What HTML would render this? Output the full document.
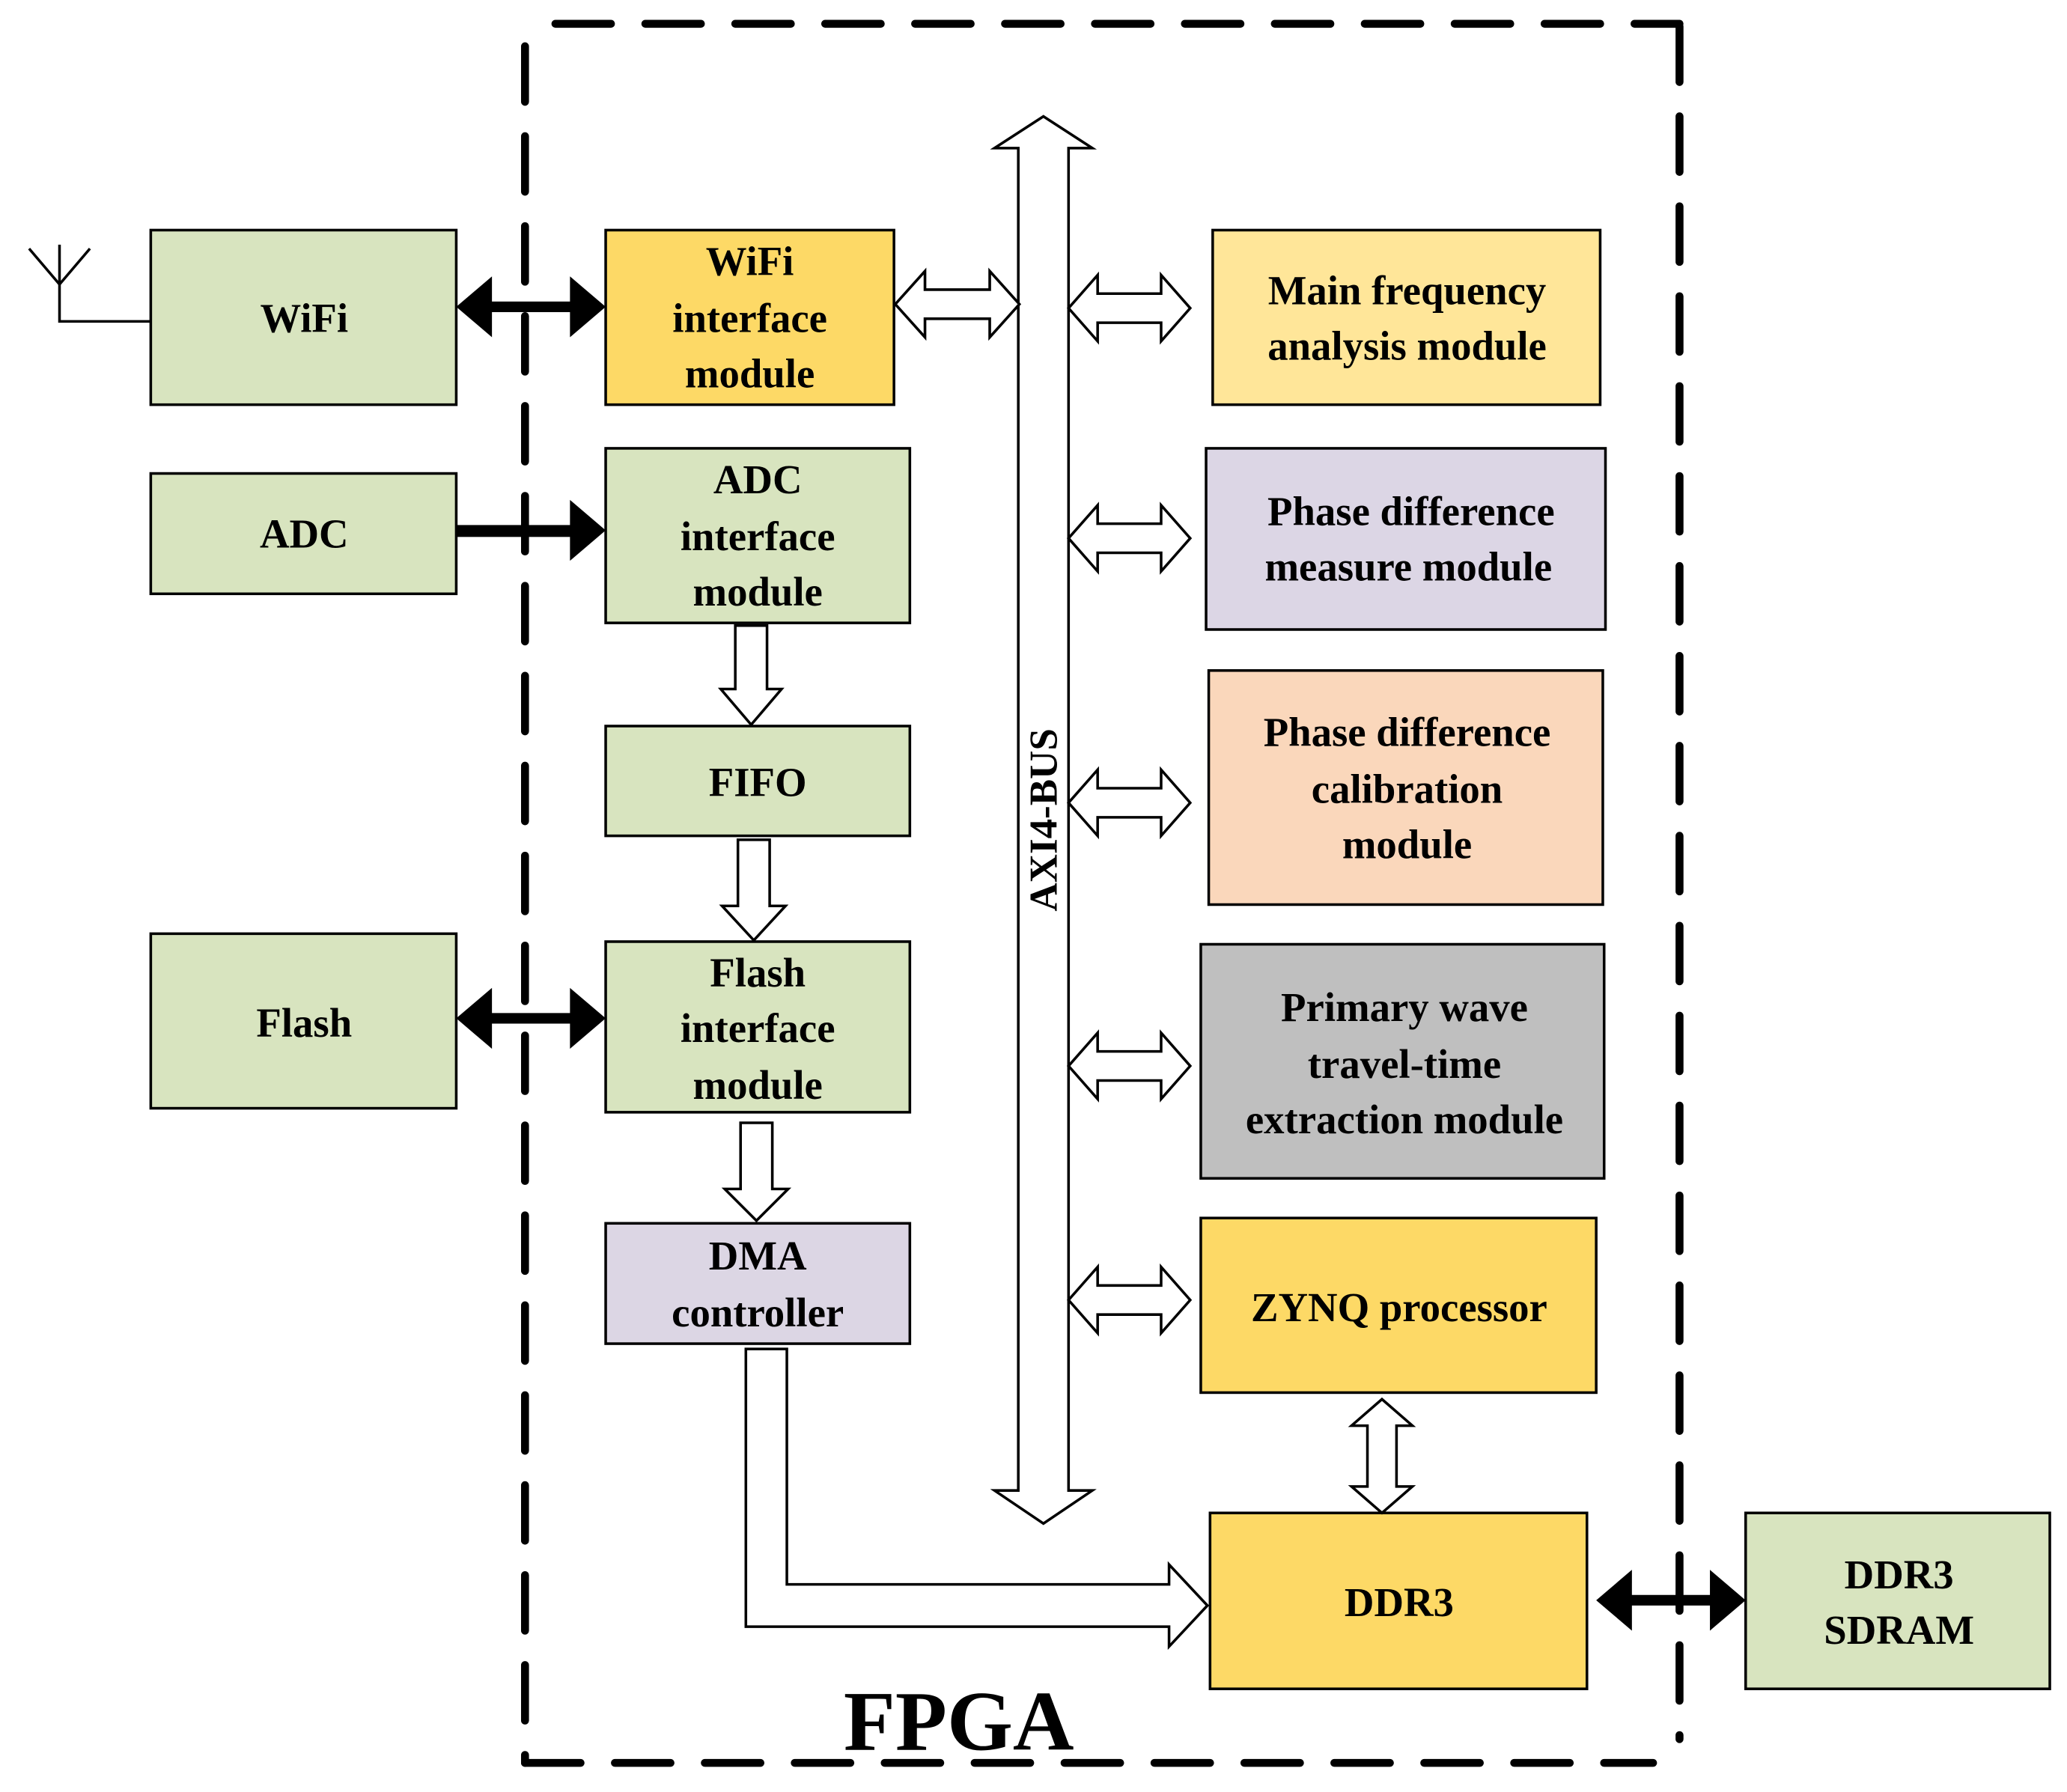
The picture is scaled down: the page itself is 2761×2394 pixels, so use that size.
<!DOCTYPE html>
<html><head><meta charset="utf-8"><style>
html,body{margin:0;padding:0;background:#fff;}
svg{display:block;}
text{font-family:"Liberation Serif",serif;font-weight:bold;font-size:31px;text-anchor:middle;fill:#000;}
</style></head><body>
<svg width="2761" height="2394" viewBox="0 0 1563 1355" preserveAspectRatio="none" xmlns="http://www.w3.org/2000/svg">
<!-- FPGA dashed border -->
<g stroke="#000" stroke-width="6" fill="none" stroke-dasharray="42 26" stroke-linecap="round">
<line x1="420" y1="18" x2="1270" y2="18"/>
<line x1="1270" y1="20" x2="1270" y2="1315"/>
<line x1="397" y1="35" x2="397" y2="1333"/>
<line x1="397" y1="1333" x2="1250" y2="1333"/>
</g>
<!-- antenna -->
<g stroke="#000" stroke-width="2" fill="none">
<polyline points="22,188 45,215 68,188"/>
<polyline points="45,185 45,243 115,243"/>
</g>
<!-- boxes -->
<g stroke="#000" stroke-width="2">
<rect x="114" y="174" width="231" height="132" fill="#d8e4bf"/>
<rect x="458" y="174" width="218" height="132" fill="#fdd966"/>
<rect x="114" y="358" width="231" height="91" fill="#d8e4bf"/>
<rect x="458" y="339" width="230" height="132" fill="#d8e4bf"/>
<rect x="458" y="549" width="230" height="83" fill="#d8e4bf"/>
<rect x="114" y="706" width="231" height="132" fill="#d8e4bf"/>
<rect x="458" y="712" width="230" height="129" fill="#d8e4bf"/>
<rect x="458" y="925" width="230" height="91" fill="#dcd6e4"/>
<rect x="917" y="174" width="293" height="132" fill="#ffe699"/>
<rect x="912" y="339" width="302" height="137" fill="#dcd6e5"/>
<rect x="914" y="507" width="298" height="177" fill="#fad7bb"/>
<rect x="908" y="714" width="305" height="177" fill="#bfbfbf"/>
<rect x="908" y="921" width="299" height="132" fill="#fdd966"/>
<rect x="915" y="1144" width="285" height="133" fill="#fdd966"/>
<rect x="1320" y="1144" width="230" height="133" fill="#d8e4bf"/>
</g>
<!-- AXI bus -->
<polygon points="789,88 826,112 808,112 808,1127 826,1127 789,1152 752,1127 770,1127 770,112 752,112" fill="#fff" stroke="#000" stroke-width="2"/>
<text transform="translate(799,620) rotate(-90)" style="font-size:30px">AXI4-BUS</text>
<defs>
<polygon id="hd" points="0,0 22,-25 22,-11 70,-11 70,-25 92,0 70,25 70,11 22,11 22,25" fill="#fff" stroke="#000" stroke-width="2"/>
<polygon id="vd" points="0,0 -23,-20 -11,-20 -11,-66 -23,-66 0,-86 23,-66 11,-66 11,-20 23,-20" fill="#fff" stroke="#000" stroke-width="2"/>
</defs>
<use href="#hd" transform="translate(677,230) scale(1.02,1)"/>
<use href="#hd" x="808" y="233"/>
<use href="#hd" x="808" y="407"/>
<use href="#hd" x="808" y="607"/>
<use href="#hd" x="808" y="806"/>
<use href="#hd" x="808" y="983"/>
<use href="#vd" x="1045" y="1144"/>
<!-- down arrows -->
<polygon points="556,473 580,473 580,521 591,521 568,548 545,521 556,521" fill="#fff" stroke="#000" stroke-width="2"/>
<polygon points="558,635 582,635 582,685 594,685 570,711 546,685 558,685" fill="#fff" stroke="#000" stroke-width="2"/>
<polygon points="560,849 584,849 584,899 596,899 572,923 548,899 560,899" fill="#fff" stroke="#000" stroke-width="2"/>
<!-- DMA -> DDR3 -->
<polygon points="564,1020 595,1020 595,1198 884,1198 884,1183 913,1214 884,1245 884,1230 564,1230" fill="#fff" stroke="#000" stroke-width="2"/>
<!-- black arrows -->
<g fill="#000" stroke="none">
<rect x="370" y="228" width="65" height="8"/>
<polygon points="345,232 372,209 372,255"/>
<polygon points="458,232 431,209 431,255"/>
<rect x="345" y="397" width="90" height="9"/>
<polygon points="458,401 431,378 431,424"/>
<rect x="370" y="766" width="65" height="8"/>
<polygon points="345,770 372,747 372,793"/>
<polygon points="458,770 431,747 431,793"/>
<rect x="1232" y="1206" width="64" height="8"/>
<polygon points="1207,1210 1234,1187 1234,1233"/>
<polygon points="1320,1210 1293,1187 1293,1233"/>
</g>
<!-- labels -->
<text x="230" y="251">WiFi</text>
<text x="567" y="208">WiFi</text><text x="567" y="251">interface</text><text x="567" y="293">module</text>
<text x="230" y="414">ADC</text>
<text x="573" y="373">ADC</text><text x="573" y="416">interface</text><text x="573" y="458">module</text>
<text x="573" y="602">FIFO</text>
<text x="230" y="784">Flash</text>
<text x="573" y="746">Flash</text><text x="573" y="788">interface</text><text x="573" y="831">module</text>
<text x="573" y="960">DMA</text><text x="573" y="1003">controller</text>
<text x="1064" y="230">Main frequency</text><text x="1064" y="272">analysis module</text>
<text x="1067" y="397">Phase difference</text><text x="1065" y="439">measure module</text>
<text x="1064" y="564">Phase difference</text><text x="1064" y="607">calibration</text><text x="1064" y="649">module</text>
<text x="1062" y="772">Primary wave</text><text x="1062" y="815">travel-time</text><text x="1062" y="857">extraction module</text>
<text x="1058" y="999">ZYNQ processor</text>
<text x="1058" y="1222">DDR3</text>
<text x="1436" y="1201">DDR3</text><text x="1436" y="1243">SDRAM</text>
<text x="725" y="1323" style="font-size:64px">FPGA</text>
</svg>
</body></html>
